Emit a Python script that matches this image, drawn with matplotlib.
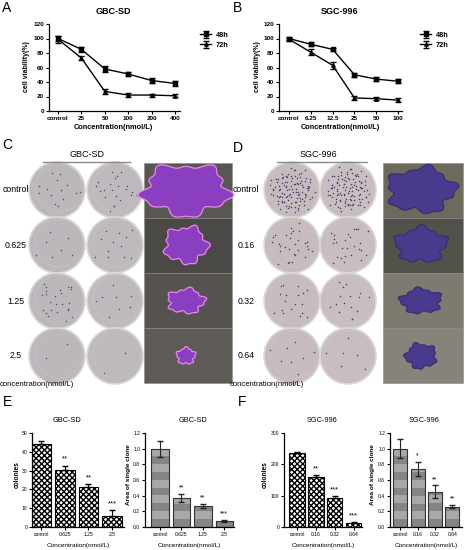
import numpy as np
import matplotlib
matplotlib.use('Agg')
import matplotlib.pyplot as plt
from matplotlib.patches import Circle, Rectangle, Polygon

plt.rcParams['font.family'] = ['Liberation Sans', 'DejaVu Sans']

# ---- data ----
# A: GBC-SD viability
conc_a = ['control', '25', '50', '100', '200', '400']
gbc_48 = [100, 85, 58, 51, 42, 38]
gbc_48_err = [4, 3, 4, 3, 3, 3]
gbc_72 = [99, 73, 27, 22, 22, 21]
gbc_72_err = [5, 3, 3, 3, 2, 2]
# B: SGC-996 viability
conc_b = ['control', '6.25', '12.5', '25', '50', '100']
sgc_48 = [100, 92, 85, 50, 44, 41]
sgc_48_err = [2, 3, 2, 3, 3, 3]
sgc_72 = [99, 81, 63, 18, 17, 15]
sgc_72_err = [2, 4, 5, 3, 2, 3]
# E: GBC-SD colony formation
conc_e = ['control', '0.625', '1.25', '2.5']
gbc_col = [44.3, 30.5, 21.2, 6.0]
gbc_col_err = [1.5, 2.2, 1.5, 3.0]
gbc_col_sig = ['', '**', '**', '***']
gbc_area = [1.0, 0.37, 0.27, 0.08]
gbc_area_err = [0.1, 0.05, 0.03, 0.01]
gbc_area_sig = ['', '**', '**', '***']
# F: SGC-996 colony formation
conc_f = ['control', '0.16', '0.32', '0.64']
sgc_col = [235, 161, 91, 13]
sgc_col_err = [4, 5, 8, 3]
sgc_col_sig = ['', '**', '***', '***']
sgc_area = [1.0, 0.74, 0.45, 0.26]
sgc_area_err = [0.12, 0.09, 0.08, 0.02]
sgc_area_sig = ['', '*', '**', '**']
# C / D: plate photos (dots per plate, colony size)
rows_c = ['control', '0.625', '1.25', '2.5']
rows_d = ['control', '0.16', '0.32', '0.64']
dots_c = [(14, 22), (7, 12), (24, 8), (2, 2)]
dots_d = [(110, 110), (30, 26), (18, 16), (8, 6)]
blob_c = [(42, 25), (21, 18), (18, 12), (9, 8)]
blob_d = [(33, 22), (25, 17), (20, 12), (15, 12)]

W, H = 465, 550
fig = plt.figure(figsize=(W / 100, H / 100), dpi=100)


def box(l, t, r, b):
    return [l / W, 1 - b / H, (r - l) / W, (b - t) / H]


def ftext(x, y, s, **kw):
    kw.setdefault('ha', 'center')
    kw.setdefault('va', 'center')
    fig.text(x / W, 1 - y / H, s, **kw)


# overlay for photo panels
ov = fig.add_axes([0, 0, 1, 1])
ov.set_xlim(0, W)
ov.set_ylim(H, 0)
ov.axis('off')


def plate(cx, cy, n, face, dotc, seed):
    ov.add_patch(Circle((cx, cy), 28, facecolor=face, edgecolor='#dcd8da', lw=1.2))
    ov.add_patch(Circle((cx + 2, cy - 2), 24, facecolor='none', edgecolor='#c9c5c8', lw=0.4))
    k = np.arange(n)
    r = 25 * np.sqrt((k + 0.5) / max(n, 1)) * (0.85 + 0.15 * np.sin(k * 7.3 + seed))
    th = k * 2.39996 + seed + 0.6 * np.sin(k * 3.1)
    ov.scatter(cx + r * np.cos(th), cy + r * np.sin(th), s=1.2, color=dotc, lw=0)


def blob(cx, cy, rx, ry, face, edge, seed):
    th = np.linspace(0, 2 * np.pi, 120)
    rr = 1 + 0.12 * np.sin(5 * th + seed) + 0.07 * np.sin(11 * th + 2 * seed)
    pts = np.c_[cx + rx * rr * np.cos(th), cy + ry * rr * np.sin(th)]
    ov.add_patch(Polygon(pts, facecolor=face, edgecolor=edge, lw=0.9))


row_y = [190, 245, 301, 356]
bg_c = ['#5a5753', '#4b4946', '#56534f', '#5e5b57']
bg_d = ['#6b6a5c', '#52514a', '#7d7b70', '#86847a']
for i in range(4):
    y = row_y[i]
    # C
    plate(57, y, dots_c[i][0], '#bbb7bb', '#5a4a6a', i)
    plate(115, y, dots_c[i][1], '#bdb9bd', '#5a4a6a', i + 3)
    ov.add_patch(Rectangle((144, 163 + 55 * i), 88, 55, facecolor=bg_c[i], edgecolor='#888888', lw=0.4))
    blob(186, y, blob_c[i][0], blob_c[i][1], '#8a3fc0', '#e88ae6', i)
    ftext(16, y, rows_c[i], fontsize=6.3)
    # D
    plate(292, y, dots_d[i][0], '#c6bcbf', '#4a3a6a', i + 5)
    plate(348, y, dots_d[i][1], '#c8bec0', '#4a3a6a', i + 7)
    ov.add_patch(Rectangle((383, 163 + 55 * i), 80, 55, facecolor=bg_d[i], edgecolor='#888888', lw=0.4))
    blob(421, y, blob_d[i][0], blob_d[i][1], '#4a3a8e', '#3a2c70', i + 2)
    ftext(246, y, rows_d[i], fontsize=6.3)

ov.plot([43, 130], [162, 162], color='#8a8a8a', lw=1)
ov.plot([277, 367], [162, 162], color='#8a8a8a', lw=1)
ftext(87, 155, 'GBC-SD', fontsize=6.5)
ftext(318, 155, 'SGC-996', fontsize=6.5)
ftext(0, 385, 'concentration(nmol/L)', fontsize=5.5, ha='left')
ftext(230, 384, 'concentration(nmol/L)', fontsize=5.5, ha='left')

# panel letters
for s, x, y in [('A', 7, 8), ('B', 237, 8), ('C', 7, 145), ('D', 238, 148), ('E', 7, 402), ('F', 242, 402)]:
    ftext(x, y, s, fontsize=10)


def prism(ax, fs):
    for sp in ['top', 'right']:
        ax.spines[sp].set_visible(False)
    for sp in ['left', 'bottom']:
        ax.spines[sp].set_linewidth(0.9)
    ax.tick_params(direction='out', length=2, width=0.8, pad=1.5, labelsize=fs)


def line_panel(rect, labels, y48, e48, y72, e72, xlim, title, tx, lx, legx):
    ax = fig.add_axes(box(*rect))
    x = np.arange(len(labels))
    ax.errorbar(x, y48, yerr=e48, color='black', marker='s', ms=2.5, lw=1,
                capsize=2, elinewidth=0.8, label='48h')
    ax.errorbar(x, y72, yerr=e72, color='black', marker='^', ms=2.5, lw=1,
                capsize=2, elinewidth=0.8, label='72h')
    ax.set_xlim(*xlim)
    ax.set_ylim(0, 120)
    ax.set_yticks(range(0, 121, 20))
    ax.set_xticks(x, labels)
    prism(ax, 4.6)
    for t in ax.get_xticklabels() + ax.get_yticklabels():
        t.set_fontweight('bold')
    ftext(tx, 12, title, fontsize=6.5, weight='bold')
    ftext(tx, 128, 'Concentration(nmol/L)', fontsize=5.3, weight='bold')
    ftext(lx, 67, 'cell viability(%)', fontsize=5, weight='bold', rotation=90)
    ax.legend(loc='upper left', bbox_to_anchor=(legx / W, 1 - 25 / H),
              bbox_transform=fig.transFigure, frameon=False,
              handlelength=1.6, handletextpad=0.6, labelspacing=0.4,
              prop={'weight': 'bold', 'size': 5.3})


line_panel((49, 24, 180, 111), conc_a, gbc_48, gbc_48_err, gbc_72, gbc_72_err,
           (-0.385, 5.21), 'GBC-SD', 113, 27, 193)
line_panel((279, 24, 402, 111), conc_b, sgc_48, sgc_48_err, sgc_72, sgc_72_err,
           (-0.46, 5.18), 'SGC-996', 340, 257, 413)


def col_panel(rect, labels, vals, errs, sig, xlim, ylim, yticks, title, tx, lx, width):
    ax = fig.add_axes(box(*rect))
    x = np.arange(len(labels))
    ax.bar(x, vals, width=width, facecolor='white', edgecolor='black', lw=0.8,
           hatch='xxxxxx')
    ax.errorbar(x, vals, yerr=[np.zeros(len(vals)), errs], fmt='none', ecolor='black',
                elinewidth=0.8, capsize=2.2)
    off = (ylim[1] - ylim[0]) * 0.03
    for xi, v, e, s in zip(x, vals, errs, sig):
        ax.text(xi, v + e + off, s, ha='center', va='bottom', fontsize=5.5)
    ax.set_xlim(*xlim)
    ax.set_ylim(*ylim)
    ax.set_yticks(yticks)
    ax.set_xticks(x, labels)
    prism(ax, 3.6)
    x0 = (rect[0] + rect[2]) / 2
    ftext(tx, 420, title, fontsize=5.3)
    ftext(x0, 545, 'Concentration(nmol/L)', fontsize=4.6)
    ftext(lx, 475, 'colonies', fontsize=4.8, weight='bold', rotation=90)


def area_panel(rect, labels, vals, errs, sig, xlim, title, tx, lx, width):
    ax = fig.add_axes(box(*rect))
    x = np.arange(len(labels))
    bars = ax.bar(x, vals, width=width, facecolor='#8e8e8e', edgecolor='#333333', lw=0.8)
    bands = np.array([[0.52], [0.66]] * 6)
    for b, v in zip(bars, vals):
        im = ax.imshow(bands, extent=[b.get_x(), b.get_x() + b.get_width(), 0, 1.2],
                       cmap='gray', vmin=0, vmax=1, aspect='auto', origin='lower',
                       interpolation='nearest', zorder=1.5)
        im.set_clip_path(b)
    for b in bars:
        b.set_zorder(2)
        b.set_facecolor('none')
    ax.errorbar(x, vals, yerr=errs, fmt='none', ecolor='#222222',
                elinewidth=0.8, capsize=2.2, zorder=3)
    for xi, v, e, s in zip(x, vals, errs, sig):
        ax.text(xi, v + e + 0.03, s, ha='center', va='bottom', fontsize=5)
    ax.set_xlim(*xlim)
    ax.set_ylim(0, 1.2)
    ax.set_yticks(np.arange(0, 1.21, 0.2))
    ax.set_yticklabels(['%.1f' % v for v in np.arange(0, 1.21, 0.2)])
    ax.set_xticks(x, labels)
    prism(ax, 3.6)
    x0 = (rect[0] + rect[2]) / 2
    ftext(tx, 420, title, fontsize=5.3)
    ftext(x0, 545, 'Concentration(nmol/L)', fontsize=4.6)
    ftext(lx, 475, 'Area of single clone', fontsize=4.6, weight='bold', rotation=90)


col_panel((32, 433, 124, 527), conc_e, gbc_col, gbc_col_err, gbc_col_sig,
          (-0.4, 3.51), (0, 50), range(0, 51, 10), 'GBC-SD', 67, 17, 0.82)
area_panel((145, 433, 234, 527), conc_e, gbc_area, gbc_area_err, gbc_area_sig,
           (-0.7, 3.45), 'GBC-SD', 193, 128, 0.82)
col_panel((284, 433, 362, 527), conc_f, sgc_col, sgc_col_err, sgc_col_sig,
          (-0.7, 3.45), (0, 300), range(0, 301, 100), 'SGC-996', 322, 265, 0.82)
area_panel((390, 433, 462, 527), conc_f, sgc_area, sgc_area_err, sgc_area_sig,
           (-0.59, 3.56), 'SGC-996', 424, 372, 0.8)

fig.savefig('out.png', dpi=100)
